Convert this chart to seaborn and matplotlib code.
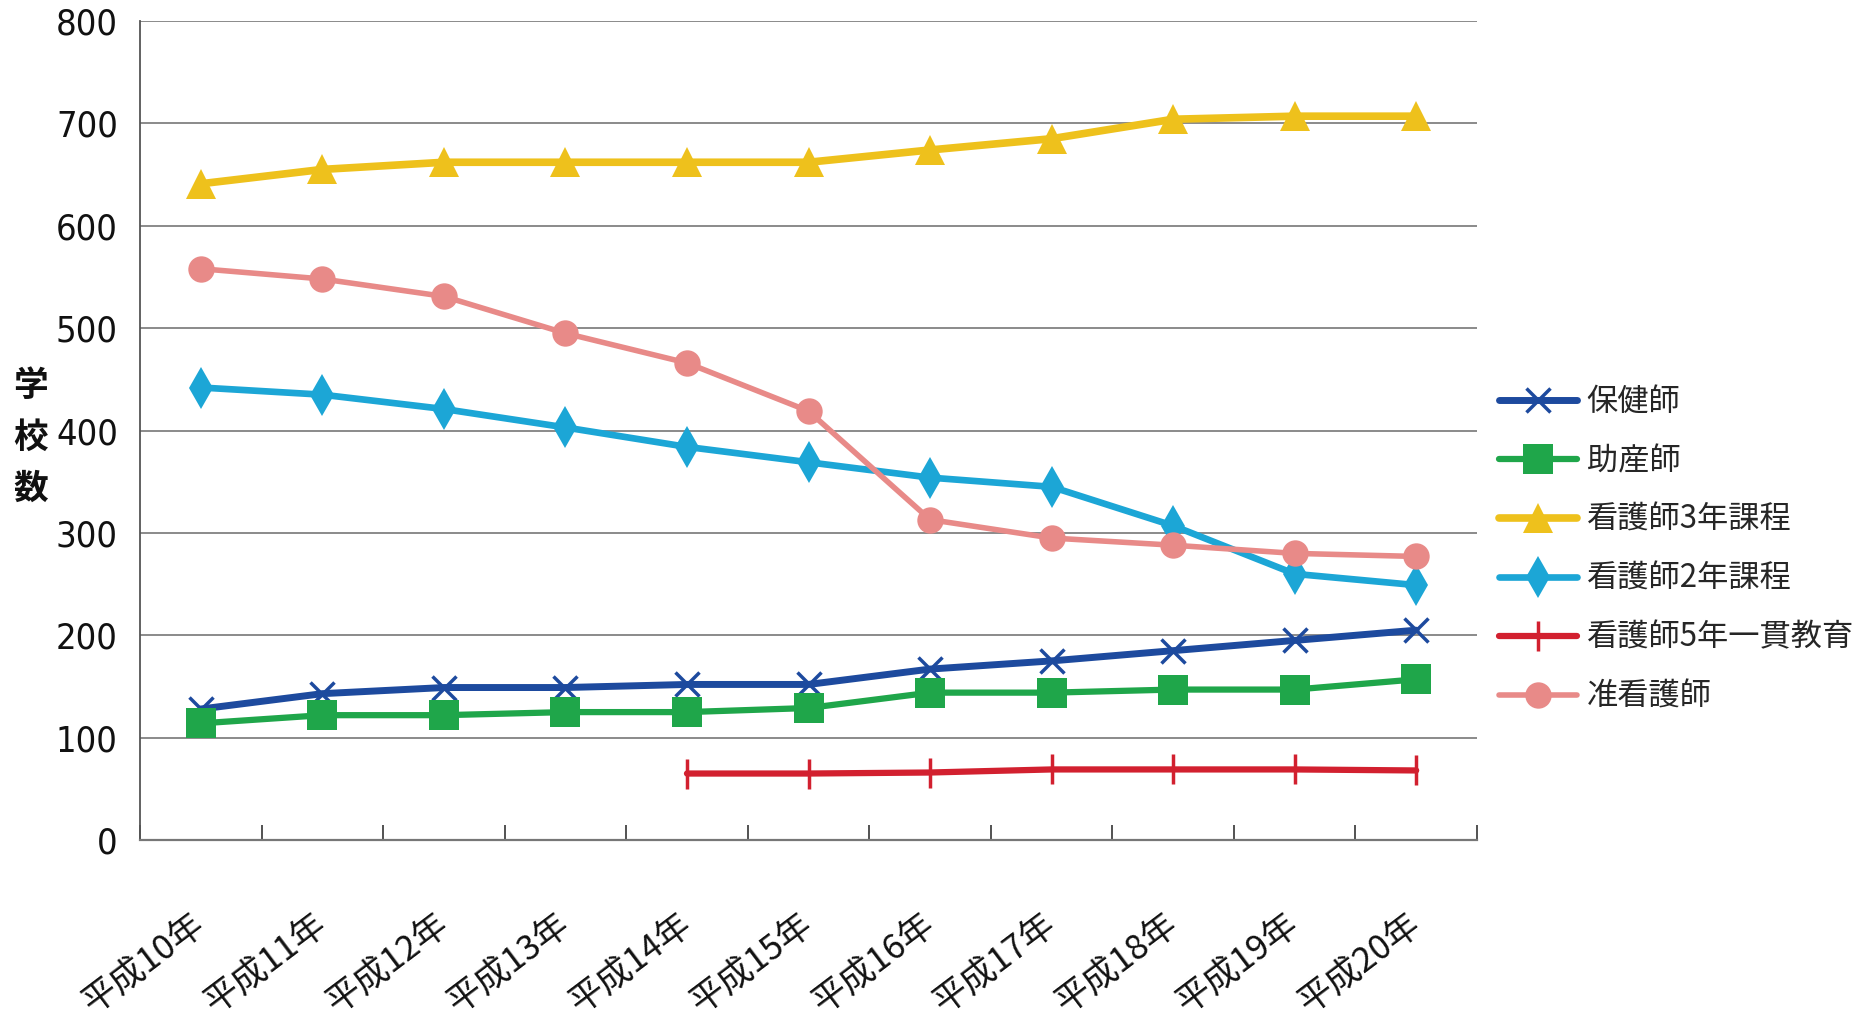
import matplotlib
matplotlib.use('Agg')
import matplotlib.pyplot as plt
import seaborn as sns
import pandas as pd

# ---- data ----
years = ['平成10年', '平成11年', '平成12年', '平成13年', '平成14年', '平成15年',
         '平成16年', '平成17年', '平成18年', '平成19年', '平成20年']
hokenshi = [128, 143, 149, 149, 152, 152, 167, 175, 185, 195, 205]
josanshi = [114, 122, 122, 125, 125, 129, 144, 144, 147, 147, 157]
kango3 = [641, 655, 662, 662, 662, 662, 674, 685, 704, 707, 707]
kango2 = [442, 435, 421, 403, 384, 369, 354, 345, 307, 260, 249]
kango5_years = years[4:]
kango5 = [65, 65, 66, 69, 69, 69, 68]
junkango = [558, 548, 531, 495, 466, 419, 313, 295, 288, 280, 277]
series_names = ['保健師', '助産師', '看護師3年課程', '看護師2年課程', '看護師5年一貫教育', '准看護師']
y_ticks = [0, 100, 200, 300, 400, 500, 600, 700, 800]

sns.set_theme(style='white')
plt.rcParams['font.family'] = ['Noto Sans CJK JP', 'DejaVu Sans']
num_font = ['DejaVu Sans']

fig = plt.figure(figsize=(18.75, 10.27), dpi=100)
ax = fig.add_axes([0.0747, 0.182, 0.7130, 0.7976])

styles = [
    dict(x=years, y=hokenshi, color='#1d4a9e', marker='x', markersize=17, lw=5,
         mec='#1d4a9e', mew=2.5),
    dict(x=years, y=josanshi, color='#1fa64a', marker='s', markersize=21, lw=4.5,
         mec='#1fa64a', mew=0),
    dict(x=years, y=kango3, color='#eec11c', marker='^', markersize=22, lw=5.5,
         mec='#eec11c', mew=0),
    dict(x=years, y=kango2, color='#1ca6d6', marker='d', markersize=21, lw=4.8,
         mec='#1ca6d6', mew=0),
    dict(x=kango5_years, y=kango5, color='#d2202f', marker='|', markersize=21, lw=4.5,
         mec='#d2202f', mew=2.5),
    dict(x=years, y=junkango, color='#e88a88', marker='o', markersize=19, lw=4.0,
         mec='#e88a88', mew=0),
]

for name, st in zip(series_names, styles):
    df = pd.DataFrame({'year': st['x'], 'value': st['y']})
    sns.lineplot(data=df, x='year', y='value', ax=ax, color=st['color'],
                 marker=st['marker'], markersize=st['markersize'], linewidth=st['lw'],
                 markeredgecolor=st['mec'], markeredgewidth=st['mew'], label=name,
                 solid_capstyle='round')

ax.set_xlim(-0.5, 10.5)
ax.set_ylim(0, 800)
ax.set_yticks(y_ticks)
ax.set_yticklabels([str(v) for v in y_ticks], family=num_font, fontsize=26,
                   fontstretch='condensed')
ax.tick_params(axis='y', length=0, pad=16, colors='#111111')

ax.set_xticks(range(len(years)))
ax.set_xticklabels(years, fontsize=25)
ax.set_xticks([i - 0.5 for i in range(len(years) + 1)], minor=True)
ax.tick_params(axis='x', which='major', length=0, pad=58, colors='#111111')
ax.tick_params(axis='x', which='minor', direction='in', length=11, width=1.3,
               color='#444444', bottom=True)
for lab in ax.get_xticklabels():
    lab.set_rotation(37)
    lab.set_ha('right')
    lab.set_va('center')
    lab.set_rotation_mode('anchor')

ax.set_xlabel('')
ax.set_ylabel('')
ax.grid(axis='y', color='#8a8a8a', linewidth=1.4)
ax.grid(axis='x', visible=False)
ax.set_axisbelow(True)
for s in ['top', 'right']:
    ax.spines[s].set_visible(False)
ax.spines['left'].set_color('#555555')
ax.spines['left'].set_linewidth(1.3)
ax.spines['bottom'].set_color('#777777')
ax.spines['bottom'].set_linewidth(1.6)

fig.text(0.0165, 0.5745, '学\n校\n数', fontsize=25, fontweight='bold',
         ha='center', va='center', linespacing=1.58, color='#111111')

handles, labels = ax.get_legend_handles_labels()
ax.legend(handles, labels, loc='center left', bbox_to_anchor=(0.7995, 0.465),
          bbox_transform=fig.transFigure, frameon=False, fontsize=22.5,
          handlelength=2.5, handletextpad=0.3, labelspacing=0.86,
          borderpad=0, borderaxespad=0)

fig.savefig('out.png', dpi=100, facecolor='white')
